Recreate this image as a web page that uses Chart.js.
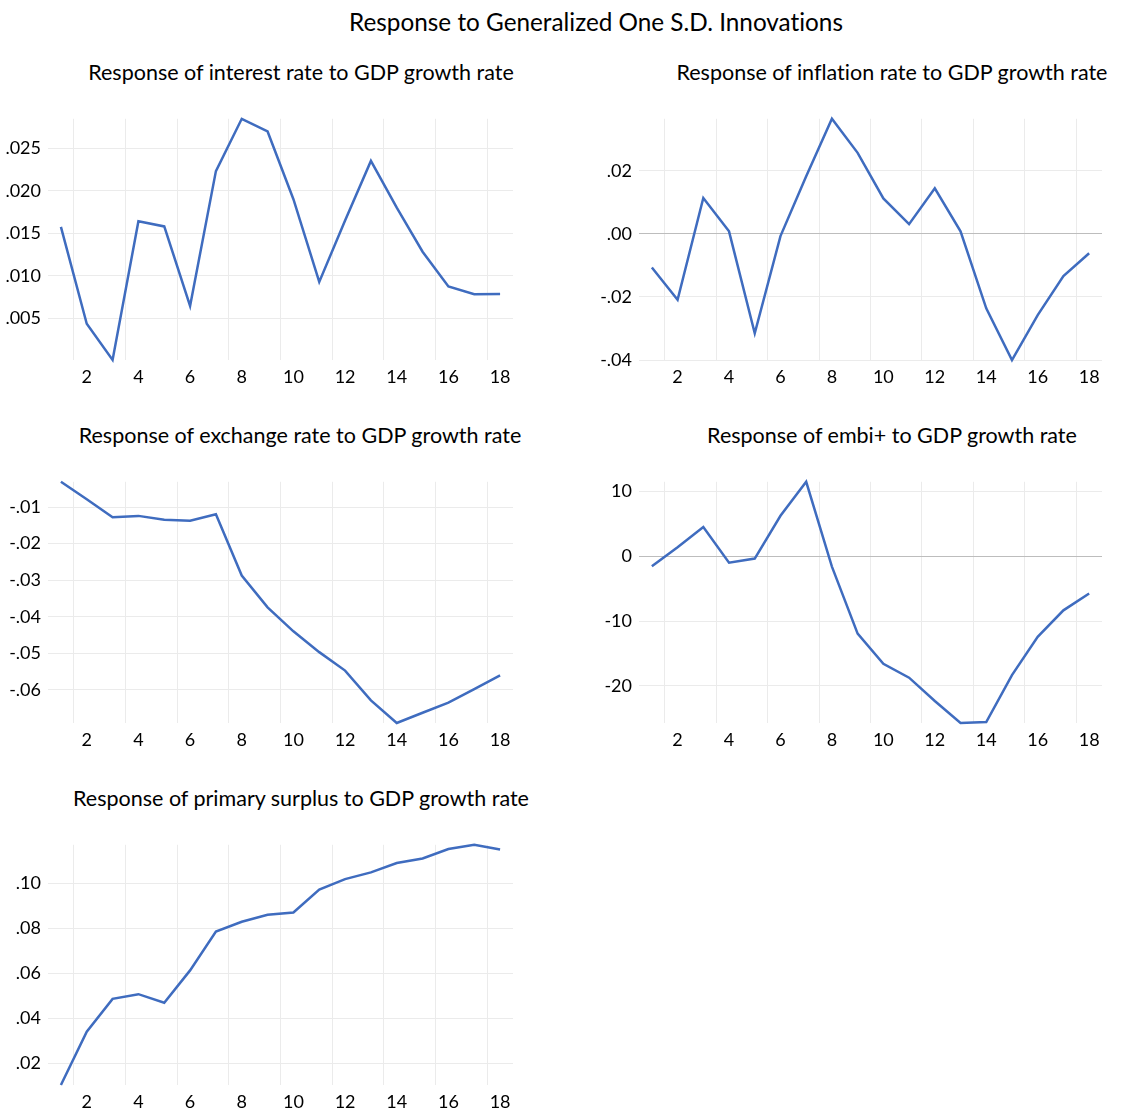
<!DOCTYPE html>
<html>
<head>
<meta charset="utf-8">
<script src="https://cdn.jsdelivr.net/npm/chart.js@4.4.1/dist/chart.umd.min.js"></script>
<style>
  html, body { margin: 0; padding: 0; background: #ffffff; }
  body { width: 1142px; height: 1109px; position: relative; overflow: hidden; font-family: Lato, "Open Sans", sans-serif; color: #000; font-variant-ligatures: none; }
  .ttl { position: absolute; text-align: center; white-space: nowrap; color: #000; font-variant-ligatures: none; font-feature-settings: "liga" 0, "clig" 0; }
  canvas { position: absolute; }
</style>
</head>
<body>
<div id="root"></div>
<script>
// ---------- data ----------
const mainTitle = 'Response to Generalized One S.D. Innovations';
const periods = ['1','2','3','4','5','6','7','8','9','10','11','12','13','14','15','16','17','18'];

const panelTitles = [
  'Response of interest rate to GDP growth rate',
  'Response of inflation rate to GDP growth rate',
  'Response of exchange rate to GDP growth rate',
  'Response of embi+ to GDP growth rate',
  'Response of primary surplus to GDP growth rate'
];

const interestRate = [0.01575, 0.00436, 0.0001, 0.0164, 0.0158, 0.00645, 0.0223, 0.02845, 0.02696, 0.0190, 0.00928, 0.0165, 0.0235, 0.0180, 0.01283, 0.00874, 0.00782, 0.00785];
const inflationRate = [-0.01068, -0.0209, 0.01138, 0.0008, -0.0315, -0.0007, 0.01825, 0.0365, 0.0257, 0.01126, 0.0031, 0.01446, 0.0008, -0.0236, -0.0400, -0.02575, -0.01335, -0.00615];
const exchangeRate = [-0.00307, -0.00787, -0.01277, -0.0124, -0.01346, -0.01373, -0.01197, -0.02875, -0.03744, -0.0440, -0.0497, -0.05475, -0.0629, -0.0691, -0.0663, -0.06354, -0.0598, -0.05608];
const embiPlus = [-1.55, 1.4, 4.5, -1.0, -0.35, 6.25, 11.5, -1.6, -11.95, -16.6, -18.75, -22.35, -25.75, -25.6, -18.35, -12.45, -8.35, -5.75];
const primarySurplus = [0.0102, 0.0340, 0.0486, 0.0507, 0.0469, 0.0613, 0.0786, 0.0830, 0.0861, 0.0871, 0.0973, 0.1020, 0.1050, 0.1092, 0.1112, 0.1154, 0.1173, 0.1152];

const yTicks1 = [0.005, 0.010, 0.015, 0.020, 0.025];
const yLabels1 = ['.005', '.010', '.015', '.020', '.025'];
const yTicks2 = [-0.04, -0.02, 0.00, 0.02];
const yLabels2 = ['-.04', '-.02', '.00', '.02'];
const yTicks3 = [-0.06, -0.05, -0.04, -0.03, -0.02, -0.01];
const yLabels3 = ['-.06', '-.05', '-.04', '-.03', '-.02', '-.01'];
const yTicks4 = [-20, -10, 0, 10];
const yLabels4 = ['-20', '-10', '0', '10'];
const yTicks5 = [0.02, 0.04, 0.06, 0.08, 0.10];
const yLabels5 = ['.02', '.04', '.06', '.08', '.10'];

// ---------- layout ----------
const root = document.getElementById('root');
function addTitle(text, cx, cy, size) {
  const d = document.createElement('div');
  d.className = 'ttl';
  d.textContent = text;
  d.style.fontSize = size + 'px';
  d.style.lineHeight = '30px';
  d.style.left = (cx - 400) + 'px';
  d.style.width = '800px';
  d.style.top = (cy - 15) + 'px';
  root.appendChild(d);
}
addTitle(mainTitle, 596, 22, 24.3);

const LINE = '#3F6CBF';
const GRID = '#ebebeb';
const ZERO = '#bdbdbd';
const FONT = { family: 'Lato, "Open Sans", sans-serif', size: 18 };

// plot-area rectangles (L, T, R, B) and title centers
const panels = [
  { data: interestRate, ticks: yTicks1, labels: yLabels1, area: [48, 111, 513, 360], tc: [301, 72] },
  { data: inflationRate, ticks: yTicks2, labels: yLabels2, area: [639, 111, 1102, 360], tc: [892, 72] },
  { data: exchangeRate, ticks: yTicks3, labels: yLabels3, area: [48, 474, 513, 722.5], tc: [300, 435] },
  { data: embiPlus, ticks: yTicks4, labels: yLabels4, area: [639, 474, 1102, 722.5], tc: [892, 435] },
  { data: primarySurplus, ticks: yTicks5, labels: yLabels5, area: [48, 837, 513, 1085], tc: [301, 798] }
];

panels.forEach((p, k) => {
  addTitle(panelTitles[k], p.tc[0], p.tc[1], 21.5);
  const [L, T, R, B] = p.area;
  const yW = 60, padTop = 10, xH = 40, padRight = 20;
  const c = document.createElement('canvas');
  const w = yW + (R - L) + padRight;
  const h = padTop + (B - T) + xH;
  c.width = Math.round(w); c.height = Math.round(h);
  c.style.left = (L - yW) + 'px';
  c.style.top = (T - padTop) + 'px';
  c.style.width = Math.round(w) + 'px';
  c.style.height = Math.round(h) + 'px';
  root.appendChild(c);
  const yMin = Math.min(...p.data), yMax = Math.max(...p.data);
  new Chart(c, {
    type: 'line',
    data: {
      labels: periods,
      datasets: [{
        data: p.data,
        borderColor: LINE,
        borderWidth: 2.5,
        pointRadius: 0,
        tension: 0,
        fill: false,
        clip: 4
      }]
    },
    options: {
      responsive: false,
      animation: false,
      devicePixelRatio: 1,
      layout: { padding: { top: padTop, right: padRight, left: 0, bottom: 0 } },
      plugins: { legend: { display: false }, title: { display: false }, tooltip: { enabled: false } },
      scales: {
        x: {
          type: 'category',
          offset: true,
          border: { display: false },
          grid: {
            offset: true,
            drawTicks: false,
            lineWidth: 1,
            color: ctx => (ctx.index % 2 === 1 ? GRID : 'rgba(0,0,0,0)')
          },
          ticks: {
            autoSkip: false,
            maxRotation: 0,
            minRotation: 0,
            padding: 6,
            color: '#000',
            font: FONT,
            callback: (v, i) => (i % 2 === 1 ? periods[i] : '')
          },
          afterFit: s => { s.height = xH; }
        },
        y: {
          type: 'linear',
          min: yMin,
          max: yMax,
          border: { display: false },
          grid: {
            drawTicks: false,
            lineWidth: 1,
            color: ctx => (ctx.tick && ctx.tick.value === 0 ? ZERO : GRID)
          },
          ticks: {
            padding: 7,
            color: '#000',
            font: FONT,
            callback: (v, i) => p.labels[i]
          },
          afterBuildTicks: s => { s.ticks = p.ticks.map(v => ({ value: v })); },
          afterFit: s => { s.width = yW; }
        }
      }
    }
  });
});
</script>
</body>
</html>
